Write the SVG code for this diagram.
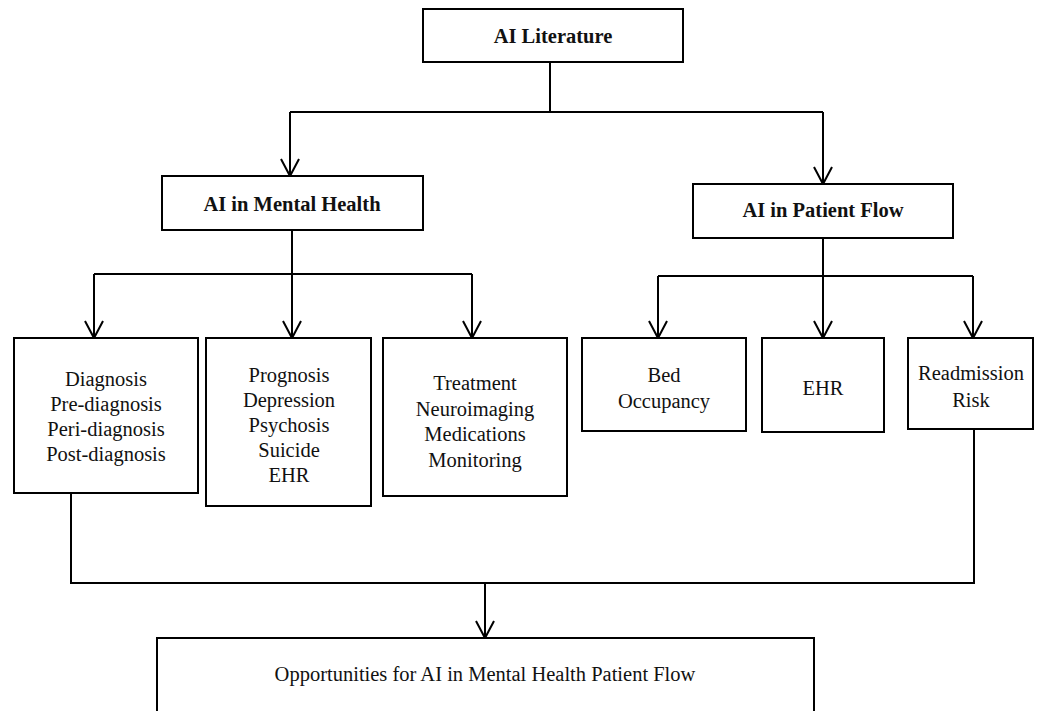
<svg xmlns="http://www.w3.org/2000/svg" width="1042" height="711" viewBox="0 0 1042 711">
<style>
.box{fill:#fff;stroke:#000;stroke-width:2}
.ln{fill:none;stroke:#000;stroke-width:2}
.arr{marker-end:url(#v)}
text{font-family:"Liberation Serif","DejaVu Serif",serif;font-size:20.5px;fill:#111;text-anchor:middle}
.b{font-weight:bold}
</style>
<defs>
<marker id="v" markerUnits="userSpaceOnUse" markerWidth="20" markerHeight="20" refX="0" refY="0" orient="auto" overflow="visible">
<path d="M-17,-9 L0,0 L-17,9" fill="none" stroke="#000" stroke-width="2"/>
</marker>
</defs>
<rect width="1042" height="711" fill="#fff"/>
<g id="connectors">
<path class="ln" d="M550,62 V112 M290,112 H823"/>
<path class="ln arr" d="M290,112 V176"/>
<path class="ln arr" d="M823,112 V184"/>
<path class="ln" d="M292,230 V274 M94,274 H472"/>
<path class="ln arr" d="M94,274 V338"/>
<path class="ln arr" d="M292,274 V338"/>
<path class="ln arr" d="M472,274 V338"/>
<path class="ln" d="M823,238 V276 M658,276 H973"/>
<path class="ln arr" d="M658,276 V338"/>
<path class="ln arr" d="M823,276 V338"/>
<path class="ln arr" d="M973,276 V338"/>
<path class="ln" d="M71,493 V583 H974 V429"/>
<path class="ln arr" d="M485,583 V638"/>
</g>
<g id="ai-literature">
<rect class="box" x="423" y="9" width="260" height="53"/>
<text class="b" x="553" y="43">AI Literature</text>
</g>
<g id="ai-mental-health">
<rect class="box" x="162" y="176" width="261" height="54"/>
<text class="b" x="292" y="211">AI in Mental Health</text>
</g>
<g id="ai-patient-flow">
<rect class="box" x="693" y="184" width="260" height="54"/>
<text class="b" x="823" y="217">AI in Patient Flow</text>
</g>
<g id="diagnosis">
<rect class="box" x="14" y="338" width="184" height="155"/>
<text x="106" y="386">Diagnosis</text>
<text x="106" y="411">Pre-diagnosis</text>
<text x="106" y="436">Peri-diagnosis</text>
<text x="106" y="461">Post-diagnosis</text>
</g>
<g id="prognosis">
<rect class="box" x="206" y="338" width="165" height="168"/>
<text x="289" y="382">Prognosis</text>
<text x="289" y="407">Depression</text>
<text x="289" y="432">Psychosis</text>
<text x="289" y="457">Suicide</text>
<text x="289" y="482">EHR</text>
</g>
<g id="treatment">
<rect class="box" x="383" y="338" width="184" height="158"/>
<text x="475" y="390">Treatment</text>
<text x="475" y="415.5">Neuroimaging</text>
<text x="475" y="441">Medications</text>
<text x="475" y="466.5">Monitoring</text>
</g>
<g id="bed-occupancy">
<rect class="box" x="582" y="338" width="164" height="93"/>
<text x="664" y="382">Bed</text>
<text x="664" y="408">Occupancy</text>
</g>
<g id="ehr">
<rect class="box" x="762" y="338" width="122" height="94"/>
<text x="823" y="395">EHR</text>
</g>
<g id="readmission-risk">
<rect class="box" x="908" y="338" width="125" height="91"/>
<text x="971" y="380">Readmission</text>
<text x="971" y="407">Risk</text>
</g>
<g id="opportunities">
<rect class="box" x="157" y="638" width="657" height="100"/>
<text x="485" y="681">Opportunities for AI in Mental Health Patient Flow</text>
</g>
</svg>
